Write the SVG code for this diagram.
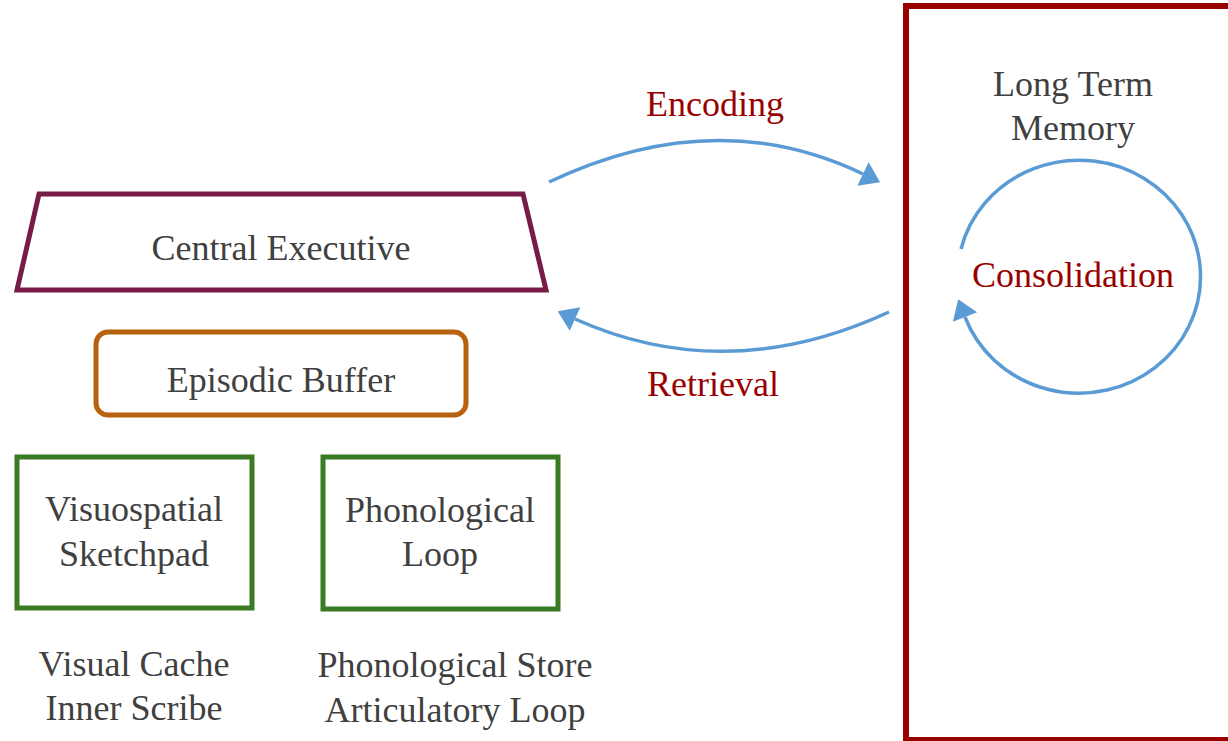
<svg xmlns="http://www.w3.org/2000/svg" width="1228" height="741" viewBox="0 0 1228 741">
  <defs>
    <style>
      .lbl { font-family: "Liberation Serif", "Times New Roman", serif; font-size: 36px; fill: #404040; text-anchor: middle; }
      .red { fill: #990000; }
      .conn { fill: none; stroke: #5B9BD5; stroke-width: 3.5; }
      .box { fill: #FFFFFF; stroke-width: 5; }
    </style>
    <marker id="head" markerUnits="userSpaceOnUse" markerWidth="24" markerHeight="30" refX="0" refY="13" orient="auto" overflow="visible">
      <path d="M0,0 L19,13 L0,26 z" fill="#5B9BD5"/>
    </marker>
  </defs>
  <rect width="1228" height="741" fill="#FFFFFF"/>

  <!-- Long term memory store -->
  <g id="long-term-memory">
    <rect x="906" y="6" width="340" height="734" fill="none" stroke="#990000" stroke-width="6"/>
    <text class="lbl" x="1073" y="96">Long Term</text>
    <text class="lbl" x="1073" y="140">Memory</text>
  </g>

  <g id="central-executive">
    <polygon class="box" points="39,194 523,194 546,290 17,290" stroke="#761C47"/>
    <text class="lbl" x="281" y="260">Central Executive</text>
  </g>

  <g id="episodic-buffer">
    <rect class="box" x="96" y="332" width="370" height="83" rx="12" stroke="#B8610E"/>
    <text class="lbl" x="281" y="392">Episodic Buffer</text>
  </g>

  <g id="visuospatial-sketchpad">
    <rect class="box" x="17" y="457" width="235" height="151" stroke="#3A7A22"/>
    <text class="lbl" x="134" y="521">Visuospatial</text>
    <text class="lbl" x="134" y="566">Sketchpad</text>
  </g>

  <g id="phonological-loop">
    <rect class="box" x="323" y="457" width="235" height="152" stroke="#3A7A22"/>
    <text class="lbl" x="440" y="522">Phonological</text>
    <text class="lbl" x="440" y="566">Loop</text>
  </g>

  <g id="sketchpad-parts">
    <text class="lbl" x="134" y="676">Visual Cache</text>
    <text class="lbl" x="134" y="720">Inner Scribe</text>
  </g>

  <g id="loop-parts">
    <text class="lbl" x="455" y="677">Phonological Store</text>
    <text class="lbl" x="455" y="722">Articulatory Loop</text>
  </g>

  <!-- Transfers between working memory and long term memory -->
  <g id="connectors">
    <path class="conn" d="M549,182 Q715,103 863,174" marker-end="url(#head)"/>
    <text class="lbl red" x="715" y="116">Encoding</text>
    <path class="conn" d="M889,312 Q727,387 575,319" marker-end="url(#head)"/>
    <text class="lbl red" x="713" y="396">Retrieval</text>
    <path class="conn" d="M961,249 A121.5,116.5 0 1 1 965,317" marker-end="url(#head)"/>
    <text class="lbl red" x="1073" y="287">Consolidation</text>
  </g>
</svg>
